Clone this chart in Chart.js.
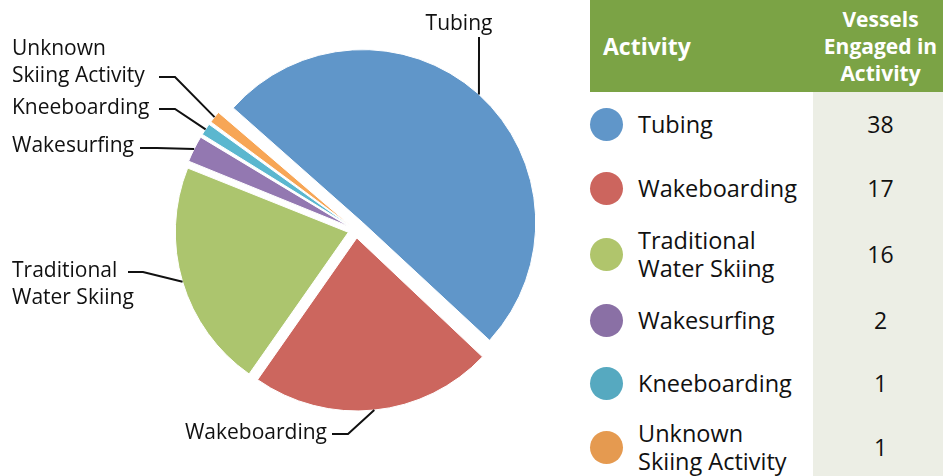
<!DOCTYPE html>
<html>
<head>
<meta charset="utf-8">
<script src="https://cdn.jsdelivr.net/npm/chart.js@4.4.1/dist/chart.umd.min.js"></script>
<style>
    body { margin: 0; width: 943px; height: 476px; overflow: hidden; background: #fff; position: relative; font-family: "Open Sans", sans-serif; color: #111; }
    #pieBox { position: absolute; left: 0; top: 0; width: 580px; height: 476px; }
    #table { position: absolute; left: 590px; top: 0; width: 358px; }
    .row { display: flex; }
    .head { height: 92px; background: #7ba345; color: #fff; font-weight: bold; }
    .head .name { width: 221px; display: flex; align-items: center; padding-left: 13px; box-sizing: border-box; font-size: 23px; }
    .head .val { width: 135px; margin-left: 2px; display: flex; align-items: center; justify-content: center; text-align: center; font-size: 21px; line-height: 27px; white-space: nowrap; }
    .body .name { width: 223px; display: flex; align-items: center; font-size: 23.5px; line-height: 28px; }
    .body .val { width: 135px; background: #eceee5; display: flex; align-items: center; justify-content: center; font-size: 23px; }
    .dot { width: 33px; height: 33px; border-radius: 50%; margin-right: 15px; flex: none; }
</style>
</head>
<body>
<div id="pieBox"><canvas id="pie"></canvas></div>
<div id="table"></div>
<script>
const activities = ['Tubing', 'Wakeboarding', ['Traditional', 'Water Skiing'], 'Wakesurfing', 'Kneeboarding', ['Unknown', 'Skiing Activity']];
const vessels = [38, 17, 16, 2, 1, 1];
const sliceColors = ['#6096c9', '#cc665e', '#acc56e', '#9378b1', '#5bb7cf', '#f7a656'];
const dotColors = ['#6096c9', '#cc655e', '#b0c56c', '#8a70a5', '#56a9c0', '#e59a50'];

// visual gap of each slice from the centre, in px
const gaps = [10, 8, 8, 8, 8, 8];

// where each callout label sits and how its leader line bends
const callouts = [
    { x: 459, y: 30, align: 'center', path: [[479, 37]] },
    { x: 327, y: 439, align: 'right', path: [[348, 434], [332, 434]] },
    { x: 12, y: 277, align: 'left', path: [[143, 272], [128, 272]] },
    { x: 12, y: 152, align: 'left', path: [[157, 148], [140, 148]] },
    { x: 12, y: 114, align: 'left', path: [[175, 109], [159, 109]] },
    { x: 12, y: 55, align: 'left', path: [[175, 77], [159, 77]] },
];
const rowHeights = [64, 64, 68, 64, 62, 66];

// Chart.js grows offset slices outward; pull them back to one radius
const sameRadius = {
    id: 'sameRadius',
    beforeDatasetsDraw(chart) {
        const meta = chart.getDatasetMeta(0);
        const baseR = meta.controller.outerRadius;
        meta.data.forEach((arc, i) => {
            const c = arc.endAngle - arc.startAngle;
            const fix = 1 - Math.sin(Math.min(Math.PI, c));
            arc.outerRadius = baseR - gaps[i] * fix;
        });
    },
};

const calloutLines = {
    id: 'calloutLines',
    afterDatasetsDraw(chart) {
        const ctx = chart.ctx;
        const meta = chart.getDatasetMeta(0);
        const baseR = meta.controller.outerRadius;
        ctx.save();
        ctx.strokeStyle = '#111';
        ctx.lineWidth = 2;
        ctx.fillStyle = '#111';
        ctx.font = '21px "Open Sans", sans-serif';
        ctx.textBaseline = 'alphabetic';
        meta.data.forEach((arc, i) => {
            const mid = (arc.startAngle + arc.endAngle) / 2;
            const ax = arc.x + Math.cos(mid) * (gaps[i] + baseR);
            const ay = arc.y + Math.sin(mid) * (gaps[i] + baseR);
            const c = callouts[i];
            ctx.beginPath();
            ctx.moveTo(ax, ay);
            c.path.forEach(([px, py]) => ctx.lineTo(px, py));
            ctx.stroke();
            const lines = [].concat(activities[i]);
            ctx.textAlign = c.align;
            lines.forEach((t, k) => ctx.fillText(t, c.x, c.y + k * 27));
        });
        ctx.restore();
    },
};

new Chart(document.getElementById('pie'), {
    type: 'pie',
    data: {
        labels: activities,
        datasets: [{
            data: vessels,
            backgroundColor: sliceColors,
            borderColor: '#fff',
            borderWidth: 1,
            offset: gaps.map((g) => g * 4),
        }],
    },
    options: {
        responsive: true,
        maintainAspectRatio: false,
        animation: false,
        events: [],
        rotation: -49,
        radius: 173,
        layout: { padding: { left: 132, right: 0, top: 0, bottom: 16 } },
        plugins: { legend: { display: false }, tooltip: { enabled: false } },
    },
    plugins: [sameRadius, calloutLines],
});

// table on the right
const table = document.getElementById('table');
table.innerHTML = '<div class="row head"><div class="name">Activity</div>' +
    '<div class="val">Vessels<br>Engaged in<br>Activity</div></div>';
activities.forEach((name, i) => {
    const row = document.createElement('div');
    row.className = 'row body';
    row.style.height = rowHeights[i] + 'px';
    row.innerHTML = `<div class="name"><span class="dot" style="background:${dotColors[i]}"></span>` +
        `<span>${[].concat(name).join('<br>')}</span></div><div class="val">${vessels[i]}</div>`;
    table.appendChild(row);
});
</script>
</body>
</html>
